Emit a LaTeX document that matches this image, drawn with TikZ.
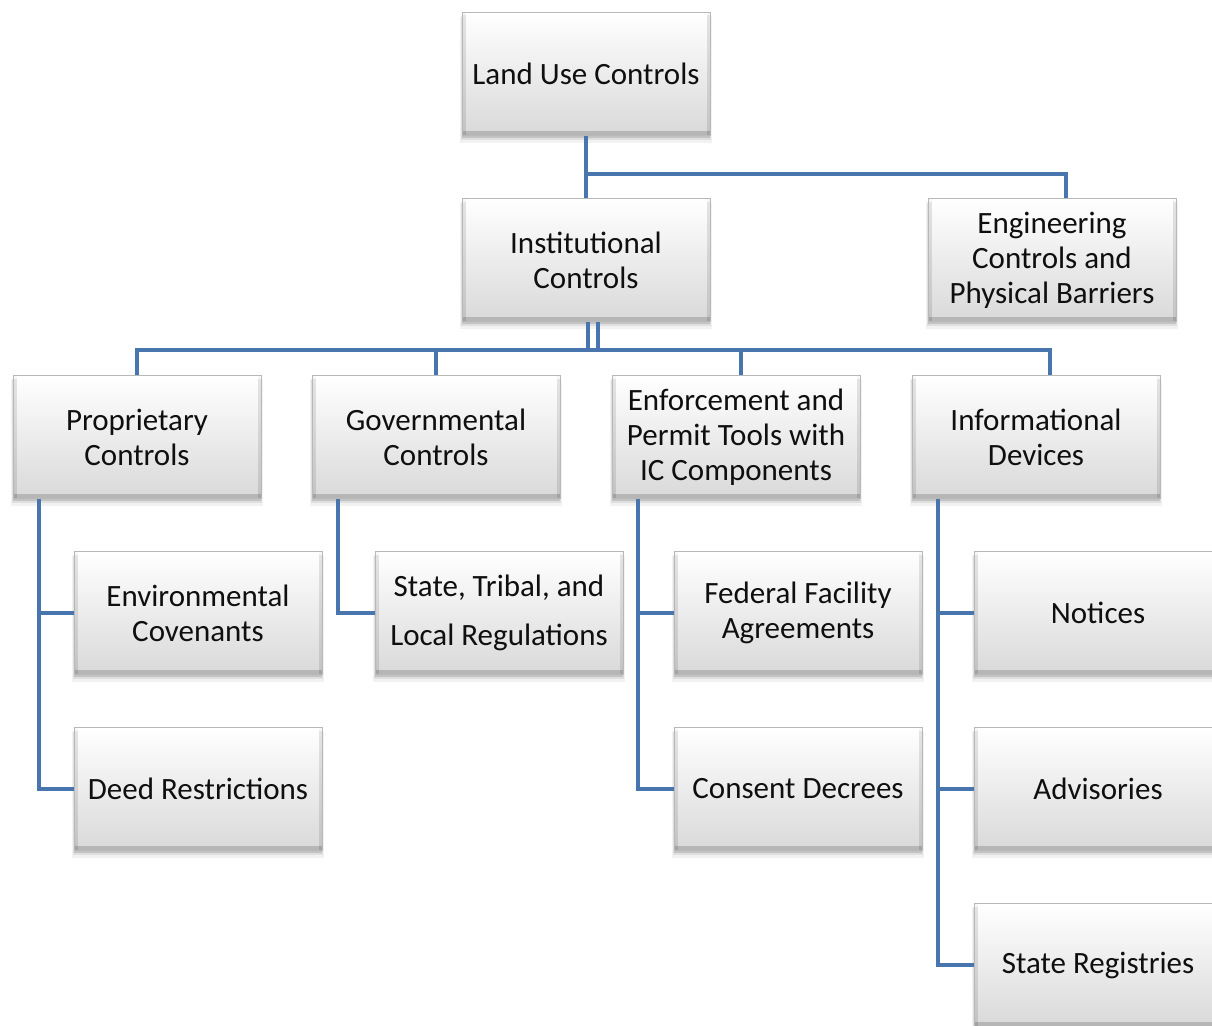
\documentclass[tikz,border=0pt]{standalone}
\usepackage{fontspec}
\setmainfont{Carlito}
\usetikzlibrary{shadows}
\definecolor{linkblue}{RGB}{72,117,174}
\definecolor{textgray}{RGB}{15,15,15}
\tikzset{
  bevel/.style={path picture={
    \fill[black,opacity=0.16] (path picture bounding box.south west) rectangle ([yshift=5pt]path picture bounding box.south east);
    \fill[black,opacity=0.10] (path picture bounding box.south west) rectangle ([xshift=3.5pt]path picture bounding box.north west);
    \fill[black,opacity=0.10] ([xshift=-3.5pt]path picture bounding box.south east) rectangle (path picture bounding box.north east);
    \fill[white,opacity=0.7] ([yshift=-3pt]path picture bounding box.north west) rectangle (path picture bounding box.north east);
  }},
  box/.style={rectangle, minimum width=248pt, minimum height=123pt,
    inner sep=0pt, align=center, text=textgray,
    font=\fontsize{31}{35}\selectfont,
    top color=white, bottom color=black!15, draw=black!28, line width=0.6pt,
    bevel,
    drop shadow={shadow xshift=0pt, shadow yshift=-2pt, opacity=0.12, fill=black},
    drop shadow={shadow xshift=0pt, shadow yshift=-4pt, shadow scale=1.01, opacity=0.08, fill=black},
    drop shadow={shadow xshift=0pt, shadow yshift=-6pt, shadow scale=1.02, opacity=0.05, fill=black}},
  conn/.style={draw=linkblue, line width=4pt, line join=miter}
}
\begin{document}
\begin{tikzpicture}[x=1pt, y=-1pt]
\useasboundingbox (0,0) rectangle (1212,1025);
\clip (0,0) rectangle (1212,1025);

% tree nodes
\node[box] (luc) at (586,74) {Land Use Controls};
\node[box] (ic) at (586,260) {Institutional\\Controls};
\node[box] (eng) at (1052,260) {Engineering\\Controls and\\Physical Barriers};

\node[box] (pc) at (137,437) {Proprietary\\Controls};
\node[box] (gc) at (436,437) {Governmental\\Controls};
\node[box] (ep) at (736,437) {Enforcement and\\Permit Tools with\\IC Components};
\node[box] (id) at (1036,437) {Informational\\Devices};

\node[box] (ec) at (198,613) {Environmental\\Covenants};
\node[box] (dr) at (198,789) {Deed Restrictions};
\node[box] (st) at (499,613) {State, Tribal, and\\[14pt]Local Regulations};
\node[box] (ff) at (798,613) {Federal Facility\\Agreements};
\node[box] (cd) at (798,789) {Consent Decrees};
\node[box] (no) at (1098,613) {Notices};
\node[box] (ad) at (1098,789) {Advisories};
\node[box] (sr) at (1098,965) {State Registries};

% connectors
\coordinate (top) at (0,174);
\coordinate (bus) at (0,350);
\draw[conn] (luc.south) -- (luc.south |- top) -- ([xshift=14pt]eng.north |- top) -- ([xshift=14pt]eng.north);
\draw[conn] (luc.south) -- (ic.north);

\draw[conn] ([xshift=2pt]ic.south) -- ([xshift=2pt]ic.south |- bus);
\draw[conn] ([xshift=12pt]ic.south) -- ([xshift=12pt]ic.south |- bus);
\draw[conn] (pc.north) -- (pc.north |- bus) -- ([xshift=14pt]id.north |- bus) -- ([xshift=14pt]id.north);
\draw[conn] (gc.north) -- (gc.north |- bus);
\draw[conn] ([xshift=5pt]ep.north) -- ([xshift=5pt]ep.north |- bus);

\draw[conn] ([xshift=26pt]pc.south west) |- (ec.west);
\draw[conn] ([xshift=26pt]pc.south west) |- (dr.west);
\draw[conn] ([xshift=26pt]gc.south west) |- (st.west);
\draw[conn] ([xshift=26pt]ep.south west) |- (ff.west);
\draw[conn] ([xshift=26pt]ep.south west) |- (cd.west);
\draw[conn] ([xshift=26pt]id.south west) |- (no.west);
\draw[conn] ([xshift=26pt]id.south west) |- (ad.west);
\draw[conn] ([xshift=26pt]id.south west) |- (sr.west);
\end{tikzpicture}
\end{document}
